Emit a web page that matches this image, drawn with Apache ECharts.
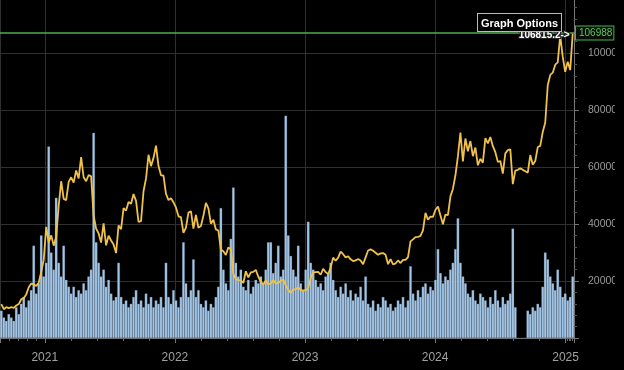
<!DOCTYPE html>
<html><head><meta charset="utf-8">
<script src="https://cdn.jsdelivr.net/npm/echarts@6/dist/echarts.min.js"></script>
<style>html,body{margin:0;padding:0;background:#000}#c{width:624px;height:370px}</style>
</head><body><div id="c"></div>
<script>
// Weekly samples starting 2020-09-01 (one value per week)
const startYear = 2020, startMonth = 8, startDay = 1;
const priceWeekly = [
 11900,10100,10800,10500,10800,10600,11400,11900,13600,14000,15300,17800,19100,18800,18300,19400,23200,27400,
 39000,33500,36000,32400, 35500,46400,55000,48800, 48400,54800,56400,54500,58800, 56000,63500,56400,55000,
 57200,56700,42900,38400, 36700,33500,40200,32500,35900, 34200,32800,29800,39500, 38200,45600,44700,47700,47100,
 50500,48100,40700,41000, 51500,56000,64300,60300, 63200,67500,60400,57100,57000, 50600,48400,49000,47600,
 45800,42700,42400,36900, 38700,44000,44500,38400, 43200,38700,39300,42900,47400, 45500,40100,41500,38100,
 37700,31000,30400,29100,31800, 31100,22500,20700,20300, 20200,19300,23400,21300, 23000,23200,23900,21500,19800,
 18800,20200,18900,19100, 20300,19100,19300,20100, 20500,18500,16900,15800,17000, 17100,17800,16800,16700,
 16700,17400,21100,22900,23100, 23200,22200,24300,23100, 22400,24700,28200,27100, 28200,30300,29400,28300,
 28700,27600,27000,27200,27700, 27200,25900,28300,30700, 31100,30600,29900,29200, 29700,29800,29200,25900,27700,
 25800,26200,27200,26300, 27400,27400,28400,33900,34600, 35400,35500,35800,37800, 43900,41500,42600,42500,
 45000,46100,43000,39900,43300, 43100,49700,52300,57100, 63800,72100,62000,70000, 65500,69100,63800,66800,60600,
 62900,61500,70100,68300, 70500,67300,65200,61800, 62100,57700,64800,65900,66200, 54000,58700,59000,59600,
 59000,58500,58000,64200, 60800,62100,67000,67400,72300, 75600,88700,92300,93100, 95900,96700,106100,98700,93400,
 96900,94000,106815
];
const volumeWeekly = [
 8,6,5,7,6,5,9,7,10,12, 9,11,14,27,13,16,30,18,22,56,
 25,20,41,22,18,27,17,15,13,15, 12,14,13,16,14,18,20,60,28,22,
 18,20,15,17,13,11,12,22,12,10, 11,9,10,12,14,10,11,9,13,10,
 12,9,11,10,12,9,22,12,10,14, 11,9,12,28,16,12,14,23,12,14,
 10,9,11,8,10,9,12,15,38,20, 16,14,29,44,22,18,20,15,14,17,
 13,15,17,16,18,16,20,28,28,19, 22,27,18,20,65,30,24,20,18,27,
 16,14,20,34,22,20,17,15,16,14, 18,19,22,17,14,12,15,13,16,12,
 14,11,13,12,15,11,18,10,9,11, 8,10,9,12,11,9,10,8,9,11,
 10,12,9,11,21,13,11,14,12,15, 16,13,15,14,17,26,19,16,18,17,
 20,22,26,35,22,18,16,13,12,14, 11,10,13,12,11,9,12,10,14,11,
 9,12,10,11,13,32,9,0,0,0, 0,8,7,9,8,10,9,15,25,23,
 18,16,14,20,15,12,13,11,12,18
];
const priceTicks = [20000, 40000, 60000, 80000, 100000];
const currentPrice = 106988;
const lastTradeLabel = '106815.2->';

const dates = priceWeekly.map((_, i) => new Date(startYear, startMonth, startDay + 7 * i).getTime());
const priceData = priceWeekly.map((v, i) => [dates[i], v]);
const volData = volumeWeekly.map((v, i) => [dates[i], v]);
const last = priceData.length - 1;

const chart = echarts.init(document.getElementById('c'), null, {renderer: 'canvas'});
const FONT = 'Liberation Sans, Arial, Helvetica, sans-serif';
chart.setOption({
  animation: false,
  backgroundColor: '#000',
  textStyle: {fontFamily: FONT},
  grid: {left: 0, right: 50, top: -4, bottom: 32, containLabel: false, outerBoundsMode: 'none'},
  xAxis: {
    type: 'time',
    min: new Date(2020, 8, 1).getTime(),
    max: new Date(2025, 0, 21).getTime(),
    minInterval: 365 * 86400000,
    maxInterval: 366 * 86400000,
    axisLine: {lineStyle: {color: '#777', width: 1}},
    axisTick: {show: true, length: 5, lineStyle: {color: '#777'}},
    minorTick: {show: true, splitNumber: 5, length: 3, lineStyle: {color: '#666'}},
    axisLabel: {
      color: '#a0a0a0', fontSize: 12, margin: 14, fontFamily: FONT,
      showMinLabel: false, showMaxLabel: false,
      formatter: function (val) {
        const d = new Date(val);
        return (d.getMonth() === 0 && d.getDate() === 1) ? String(d.getFullYear()) : '';
      }
    },
    splitLine: {show: true, lineStyle: {color: '#303030', width: 1}}
  },
  yAxis: [{
    type: 'value', position: 'right', min: 0, max: 120000, interval: 20000,
    axisLine: {show: true, lineStyle: {color: '#777'}},
    axisTick: {show: true, length: 5, lineStyle: {color: '#777'}},
    minorTick: {show: true, splitNumber: 5, length: 3, lineStyle: {color: '#555'}},
    axisLabel: {
      color: '#9a9a9a', fontSize: 10.5, margin: 14, fontFamily: FONT,
      formatter: function (v) { return priceTicks.indexOf(v) >= 0 ? String(v) : ''; }
    },
    splitLine: {show: true, lineStyle: {color: '#303030', width: 1}}
  }, {
    type: 'value', min: 0, max: 100, show: false, splitLine: {show: false}
  }],
  series: [{
    name: 'Volume', type: 'bar', yAxisIndex: 1, data: volData,
    barWidth: 2.6, large: false,
    itemStyle: {color: '#a5c6e5', borderColor: '#4a6078', borderWidth: 0.25},
    z: 1
  }, {
    name: 'Price', type: 'line', data: priceData, showSymbol: false,
    lineStyle: {color: '#f0c24a', width: 1.8}, itemStyle: {color: '#f0c24a'},
    z: 3,
    markLine: {
      silent: true, symbol: ['none', 'none'],
      lineStyle: {color: '#4caf50', width: 1.5, type: 'solid'},
      label: {
        show: true, position: 'end', distance: 2, formatter: String(currentPrice),
        color: '#62c462', fontSize: 10, fontFamily: FONT,
        backgroundColor: '#061006', borderColor: '#4caf50', borderWidth: 1, padding: [2, 1, 1, 3]
      },
      data: [{yAxis: currentPrice}]
    },
    markPoint: {
      silent: true, symbol: 'circle', symbolSize: 0,
      label: {
        show: true, position: 'left', distance: 3, offset: [0, 2], formatter: lastTradeLabel,
        color: '#fff', fontWeight: 'bold', fontSize: 10, fontFamily: FONT,
        textBorderColor: '#222', textBorderWidth: 2
      },
      data: [{coord: priceData[last]}]
    }
  }],
  graphic: [{
    type: 'rect', right: 0, top: 0, z: 90,
    shape: {width: 9, height: 370},
    style: {fill: '#000'}
  }, {
    type: 'text', left: 477, top: 13, z: 100,
    style: {
      text: 'Graph Options', fill: '#fff', font: 'bold 11px ' + FONT,
      backgroundColor: '#000', borderColor: '#bbb', borderWidth: 1, padding: [4, 3, 2, 3]
    }
  }]
});
</script></body></html>
